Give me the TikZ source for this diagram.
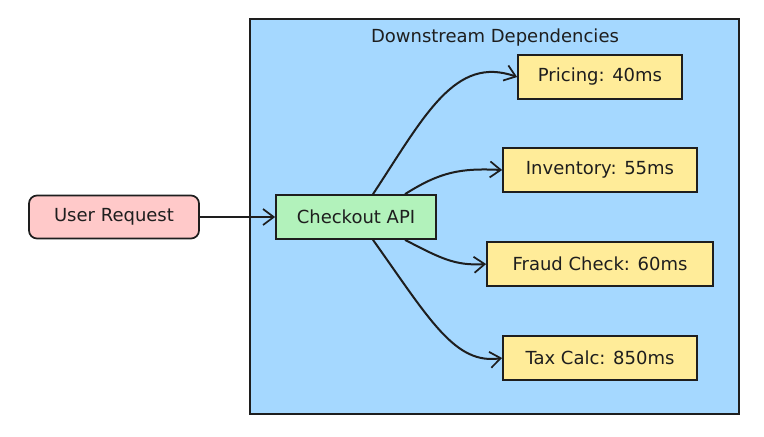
\documentclass[tikz,border=0pt]{standalone}
\usepackage{fontspec}
\setmainfont{DejaVu Sans}
\usetikzlibrary{arrows.meta}
\definecolor{cblue}{HTML}{A5D8FF}
\definecolor{cpink}{HTML}{FFC9C9}
\definecolor{cgreen}{HTML}{B2F2BB}
\definecolor{cyellow}{HTML}{FFEC99}
\definecolor{ink}{HTML}{1E1E1E}
\tikzset{
  lbl/.style={font=\fontsize{13.5}{15}\selectfont, text=ink},
  box/.style={lbl, draw=ink, line width=1.3pt, minimum height=33pt, inner sep=0pt},
  conn/.style={draw=ink, line width=1.5pt, -{Straight Barb[length=8pt,width=12pt,line width=1.3pt]}},
}
\begin{document}
\begin{tikzpicture}[x=0.75pt,y=-0.75pt]
\useasboundingbox (0,0) rectangle (764,436);
\fill[white] (0,0) rectangle (764,436);
\node[draw=ink, line width=1.3pt, fill=cblue, minimum width=366.75pt, minimum height=296.25pt, inner sep=0pt] (cont) at (494.5,216.5) {};
\node[lbl] (title) at (495,38) {Downstream Dependencies};
\node[box, fill=cpink, rounded corners=6pt, minimum width=127.5pt, minimum height=32.25pt] (user) at (114,217) {User Request};
\node[box, fill=cgreen, minimum width=120pt] (chk) at (356,217) {Checkout API};
\node[box, fill=cyellow, minimum width=123pt] (pri) at (600,77) {Pricing: 40ms};
\node[box, fill=cyellow, minimum width=145.5pt] (inv) at (600,170) {Inventory: 55ms};
\node[box, fill=cyellow, minimum width=169.5pt] (fra) at (600,264) {Fraud Check: 60ms};
\node[box, fill=cyellow, minimum width=145.5pt] (tax) at (600,358) {Tax Calc: 850ms};
\draw[conn] (user.east) -- (chk.west);
\draw[conn] ([xshift=12.75pt]chk.north) .. controls (425,115) and (455,55) .. (pri.west);
\draw[conn] ([xshift=36.75pt]chk.north) .. controls (440,172) and (460,168) .. (inv.west);
\draw[conn] ([xshift=36.75pt]chk.south) .. controls (440,258) and (455,266) .. (fra.west);
\draw[conn] ([xshift=12.75pt]chk.south) .. controls (430,320) and (455,365) .. (tax.west);
\end{tikzpicture}
\end{document}
